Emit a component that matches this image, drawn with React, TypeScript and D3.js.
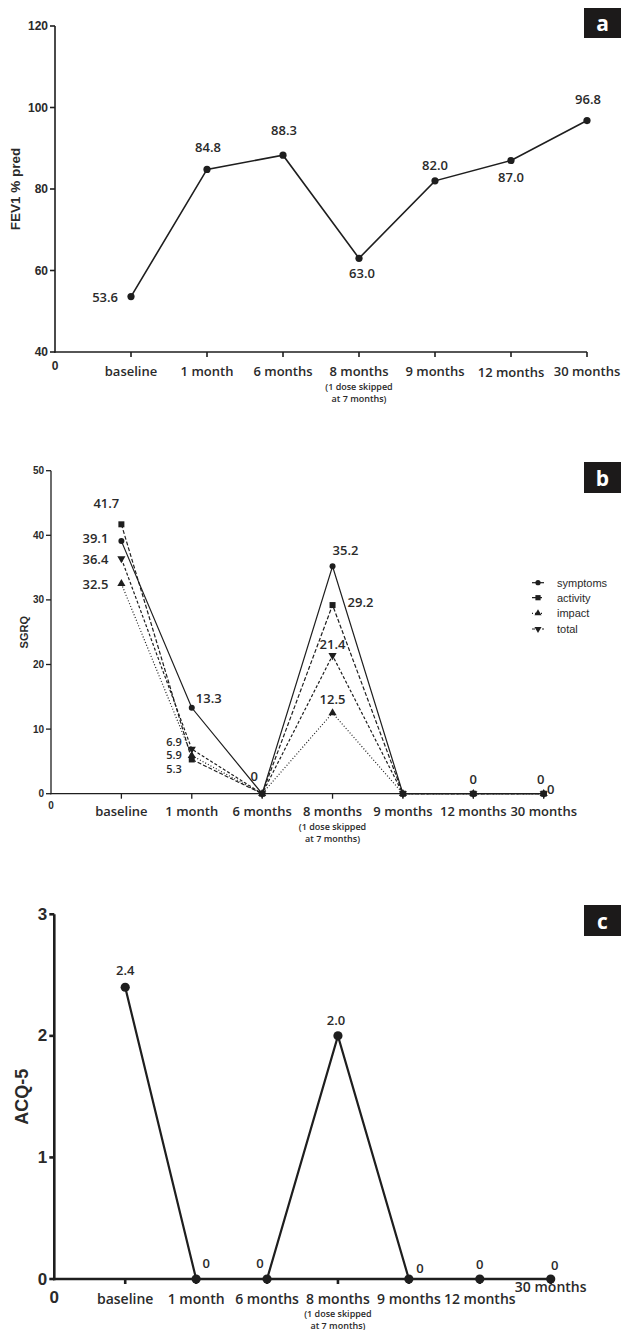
import React from "react";
import * as d3 from "d3";

const categories = ["baseline", "1 month", "6 months", "8 months", "9 months", "12 months", "30 months"];
const noteLines = ["(1 dose skipped", "at 7 months)"];

const fev1 = [53.6, 84.8, 88.3, 63.0, 82.0, 87.0, 96.8];
const fev1Ticks = [40, 60, 80, 100, 120];

const sgrqSymptoms = [39.1, 13.3, 0, 35.2, 0, 0, 0];
const sgrqActivity = [41.7, 5.3, 0, 29.2, 0, 0, 0];
const sgrqImpact = [32.5, 5.9, 0, 12.5, 0, 0, 0];
const sgrqTotal = [36.4, 6.9, 0, 21.4, 0, 0, 0];
const sgrqTicks = [0, 10, 20, 30, 40, 50];
const sgrqNames = ["symptoms", "activity", "impact", "total"];

const acq5 = [2.4, 0, 0, 2.0, 0, 0, 0];
const acqTicks = [0, 1, 2, 3];

const AX = "'Liberation Sans', Arial, sans-serif";
const OS = "'Open Sans', sans-serif";
const INK = "#1e1e1e";
const TXT = "#2a2a2a";

type Lab = { s: number; i: number; text: string; dx: number; dy: number; anchor?: string; size?: number };

function Marker({ kind, x, y, r }: { kind: string; x: number; y: number; r: number }) {
  if (kind === "circle") return <circle cx={x} cy={y} r={r} fill={INK} />;
  if (kind === "square") return <rect x={x - r} y={y - r} width={2 * r} height={2 * r} fill={INK} />;
  const sym = d3.symbol().type(d3.symbolTriangle).size(r * r * 3.2)();
  const rot = kind === "down" ? 180 : 0;
  return <path d={sym || ""} transform={`translate(${x},${y}) rotate(${rot})`} fill={INK} />;
}

function Panel(props: {
  x0: number; x7: number; yTop: number; yBot: number; domain: [number, number]; ticks: number[];
  tickFont: number; tickFmt: (v: number) => string; yTitle: string; yTitleX: number; yTitleFont: number;
  series: { values: number[]; dash: string; kind: string }[];
  lineW: number; axisW: number; markerR: number;
  labels: Lab[]; labelFont: number; xLabelY: number; xLabelFont: number; noteY: number; zeroY: number; zeroFont: number;
  box: { y: number; h: number; letter: string };
  xLabelDy?: number[];
}) {
  const p = props;
  const x = d3.scaleLinear().domain([0, 7]).range([p.x0, p.x7]);
  const y = d3.scaleLinear().domain(p.domain).range([p.yBot, p.yTop]);
  const line = d3.line<number>().x((_, i) => x(i + 1)).y((v) => y(v));
  return (
    <g>
      <line x1={x(0)} x2={x(0)} y1={y(p.domain[0]) + p.axisW / 2} y2={y(p.domain[1])} stroke={INK} strokeWidth={p.axisW} />
      <line x1={x(0) - p.axisW / 2} x2={x(7)} y1={y(p.domain[0])} y2={y(p.domain[0])} stroke={INK} strokeWidth={p.axisW} />
      {p.ticks.map((t) => (
        <g key={"yt" + t}>
          <line x1={x(0) - 5} x2={x(0)} y1={y(t)} y2={y(t)} stroke={INK} strokeWidth={p.axisW} />
          <text x={x(0) - 7} y={y(t)} textAnchor="end" dominantBaseline="central" fontFamily={AX} fontWeight="bold" fontSize={p.tickFont} fill={TXT}>
            {p.tickFmt(t)}
          </text>
        </g>
      ))}
      {categories.map((c, i) => (
        <g key={"xt" + c}>
          <line x1={x(i + 1)} x2={x(i + 1)} y1={y(p.domain[0])} y2={y(p.domain[0]) + 5} stroke={INK} strokeWidth={p.axisW} />
          <text x={x(i + 1)} y={p.xLabelY + (p.xLabelDy ? p.xLabelDy[i] : 0)} textAnchor="middle" dominantBaseline="central" fontFamily={OS} fontWeight={600} fontSize={p.xLabelFont} fill={TXT}>
            {c}
          </text>
        </g>
      ))}
      {noteLines.map((n, k) => (
        <text key={n} x={x(4)} y={p.noteY + k * 12} textAnchor="middle" dominantBaseline="central" fontFamily={OS} fontWeight={600} fontSize={9} fill={TXT}>
          {n}
        </text>
      ))}
      <text x={x(0)} y={p.zeroY} textAnchor="middle" dominantBaseline="central" fontFamily={AX} fontWeight="bold" fontSize={p.zeroFont} fill={TXT}>0</text>
      <text transform={`translate(${p.yTitleX},${(p.yTop + p.yBot) / 2}) rotate(-90)`} textAnchor="middle" dominantBaseline="central" fontFamily={AX} fontWeight="bold" fontSize={p.yTitleFont} fill={TXT}>
        {p.yTitle}
      </text>
      {p.series.map((s, si) => (
        <g key={"s" + si}>
          <path d={line(s.values) || ""} fill="none" stroke={INK} strokeWidth={p.lineW} strokeDasharray={s.dash} />
          {s.values.map((v, i) => (
            <Marker key={i} kind={s.kind} x={x(i + 1)} y={y(v)} r={p.markerR} />
          ))}
        </g>
      ))}
      {p.labels.map((l, k) => (
        <text key={"l" + k} x={x(l.i + 1) + l.dx} y={y(p.series[l.s].values[l.i]) + l.dy} textAnchor={l.anchor || "middle"} dominantBaseline="central" fontFamily={OS} fontWeight={600} fontSize={l.size || p.labelFont} fill={TXT}>
          {l.text}
        </text>
      ))}
      <rect x={584} y={p.box.y} width={37} height={p.box.h} fill="#1c1a1a" />
      <text x={602.5} y={p.box.y + p.box.h / 2} textAnchor="middle" dominantBaseline="central" fontFamily={OS} fontWeight={700} fontSize={21} fill="#fff">
        {p.box.letter}
      </text>
    </g>
  );
}

const fmt1 = (v: number) => v.toFixed(1);

export default function App() {
  const labelsA: Lab[] = [
    { s: 0, i: 0, text: fmt1(fev1[0]), dx: -13, dy: 0, anchor: "end" },
    { s: 0, i: 1, text: fmt1(fev1[1]), dx: 1, dy: -22 },
    { s: 0, i: 2, text: fmt1(fev1[2]), dx: 1, dy: -25 },
    { s: 0, i: 3, text: fmt1(fev1[3]), dx: 3, dy: 15 },
    { s: 0, i: 4, text: fmt1(fev1[4]), dx: 0, dy: -16 },
    { s: 0, i: 5, text: fmt1(fev1[5]), dx: 0, dy: 17 },
    { s: 0, i: 6, text: fmt1(fev1[6]), dx: 1, dy: -22 },
  ];
  const sgrq = [sgrqSymptoms, sgrqActivity, sgrqImpact, sgrqTotal];
  const t = (s: number, i: number) => String(sgrq[s][i] === 0 ? 0 : fmt1(sgrq[s][i]));
  const labelsB: Lab[] = [
    { s: 0, i: 0, text: t(0, 0), dx: -13, dy: -3, anchor: "end" },
    { s: 1, i: 0, text: t(1, 0), dx: -15, dy: -21 },
    { s: 3, i: 0, text: t(3, 0), dx: -13, dy: 0, anchor: "end" },
    { s: 2, i: 0, text: t(2, 0), dx: -13, dy: 0, anchor: "end" },
    { s: 0, i: 1, text: t(0, 1), dx: 17, dy: -10 },
    { s: 3, i: 1, text: t(3, 1), dx: -10, dy: -8, anchor: "end", size: 11 },
    { s: 2, i: 1, text: t(2, 1), dx: -10, dy: -0.6, anchor: "end", size: 11 },
    { s: 1, i: 1, text: t(1, 1), dx: -10, dy: 9.5, anchor: "end", size: 11 },
    { s: 0, i: 2, text: t(0, 2), dx: -8, dy: -18 },
    { s: 0, i: 3, text: t(0, 3), dx: 13, dy: -16 },
    { s: 1, i: 3, text: t(1, 3), dx: 15, dy: -3, anchor: "start" },
    { s: 3, i: 3, text: t(3, 3), dx: 0, dy: -11 },
    { s: 2, i: 3, text: t(2, 3), dx: 0, dy: -14 },
    { s: 1, i: 5, text: t(1, 5), dx: 0, dy: -15 },
    { s: 1, i: 6, text: t(1, 6), dx: -3, dy: -15 },
    { s: 0, i: 6, text: t(0, 6), dx: 7, dy: -5 },
  ];
  const tc = (i: number) => (acq5[i] === 0 ? "0" : fmt1(acq5[i]));
  const labelsC: Lab[] = [
    { s: 0, i: 0, text: tc(0), dx: 0, dy: -17 },
    { s: 0, i: 1, text: tc(1), dx: 10, dy: -16 },
    { s: 0, i: 2, text: tc(2), dx: -7, dy: -16 },
    { s: 0, i: 3, text: tc(3), dx: -2, dy: -16 },
    { s: 0, i: 4, text: tc(4), dx: 11, dy: -11 },
    { s: 0, i: 5, text: tc(5), dx: 0, dy: -15 },
    { s: 0, i: 6, text: tc(6), dx: 4, dy: -14 },
  ];
  const kinds = ["circle", "square", "up", "down"];
  const dashes = ["", "4,2", "1,2", "3,2"];
  const legendX = 538;
  const legendY = [582.7, 597.7, 613.3, 629];
  return (
    <svg width={621} height={1330} style={{ position: "absolute", left: 0, top: 0, background: "#fff" }}>
      <rect width={621} height={1330} fill="#fff" />
      <Panel
        x0={55} x7={587} yTop={26} yBot={352} domain={[40, 120]} ticks={fev1Ticks} tickFont={12}
        tickFmt={(v) => String(v)} yTitle="FEV1 % pred" yTitleX={15} yTitleFont={13.5}
        series={[{ values: fev1, dash: "", kind: "circle" }]} lineW={1.6} axisW={1.6} markerR={3.6}
        labels={labelsA} labelFont={13} xLabelY={371} xLabelFont={13} noteY={386} zeroY={366} zeroFont={12}
        box={{ y: 8, h: 30, letter: "a" }}
        xLabelDy={[0, 0, 0, 0, 0, 1, 0]}
      />
      <Panel
        x0={51} x7={543.7} yTop={470.7} yBot={793.7} domain={[0, 50]} ticks={sgrqTicks} tickFont={10}
        tickFmt={(v) => String(v)} yTitle="SGRQ" yTitleX={24} yTitleFont={11}
        series={sgrq.map((v, k) => ({ values: v, dash: dashes[k], kind: kinds[k] }))} lineW={1.2} axisW={1.3} markerR={3}
        labels={labelsB} labelFont={13} xLabelY={811} xLabelFont={13} noteY={826} zeroY={805} zeroFont={10}
        box={{ y: 462, h: 31, letter: "b" }}
      />
      {sgrqNames.map((n, k) => (
        <g key={n}>
          <line x1={legendX - 6} x2={legendX + 6} y1={legendY[k]} y2={legendY[k]} stroke={INK} strokeWidth={1.2} strokeDasharray={dashes[k]} />
          <Marker kind={kinds[k]} x={legendX} y={legendY[k]} r={2.6} />
          <text x={557} y={legendY[k]} dominantBaseline="central" fontFamily={AX} fontSize={11} fill={TXT}>{n}</text>
        </g>
      ))}
      <Panel
        x0={54.3} x7={550.7} yTop={914.3} yBot={1279} domain={[0, 3]} ticks={acqTicks} tickFont={17}
        tickFmt={(v) => String(v)} yTitle="ACQ-5" yTitleX={21.7} yTitleFont={18}
        series={[{ values: acq5, dash: "", kind: "circle" }]} lineW={2.2} axisW={2.6} markerR={4.6}
        labels={labelsC} labelFont={13} xLabelY={1298} xLabelFont={14} noteY={1313} zeroY={1297} zeroFont={17}
        box={{ y: 905, h: 31, letter: "c" }}
        xLabelDy={[0, 0, 0, 0, 0, 0, -12]}
      />
    </svg>
  );
}
